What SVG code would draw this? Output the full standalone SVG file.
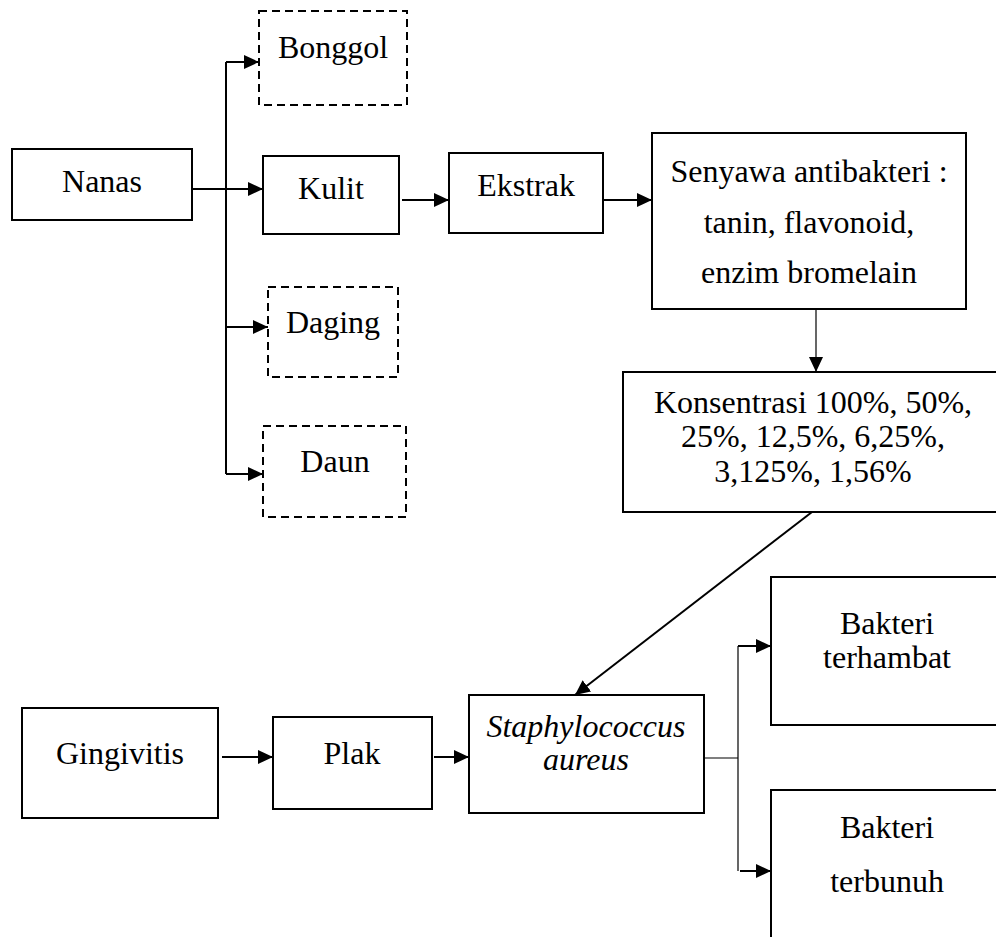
<svg xmlns="http://www.w3.org/2000/svg" width="996" height="937" viewBox="0 0 996 937">
<defs>
<style>
.box{fill:#fff;stroke:#000;stroke-width:2}
.dash{fill:#fff;stroke:#000;stroke-width:2;stroke-dasharray:8 5}
.t{font-family:"Liberation Serif","Times New Roman",serif;font-size:32px;fill:#000;text-anchor:middle}
.it{font-style:italic}
.c{fill:none;stroke:#000;stroke-width:2}
.thin{fill:none;stroke:#000;stroke-width:1.2}
</style>
<marker id="ah" markerUnits="userSpaceOnUse" markerWidth="15" markerHeight="14" refX="15" refY="7" orient="auto">
<path d="M0,0 L15,7 L0,14 z" fill="#000"/>
</marker>
</defs>
<rect width="996" height="937" fill="#fff"/>
<g id="connectors">
<path class="c" d="M192,189 H263" marker-end="url(#ah)"/>
<path class="c" d="M226,62 V474"/>
<path class="c" d="M226,62 H259" marker-end="url(#ah)"/>
<path class="c" d="M226,327 H268" marker-end="url(#ah)"/>
<path class="c" d="M226,474 H263" marker-end="url(#ah)"/>
<path class="c" d="M402,200 H449" marker-end="url(#ah)"/>
<path class="c" d="M603,200 H652" marker-end="url(#ah)"/>
<path class="thin" d="M816,309 V372" marker-end="url(#ah)"/>
<path class="c" d="M812,512 L575,695" marker-end="url(#ah)"/>
<path class="c" d="M222,757 H273" marker-end="url(#ah)"/>
<path class="c" d="M434,757 H469" marker-end="url(#ah)"/>
<path class="thin" d="M705,758 H738"/>
<path class="thin" d="M738,646 V871"/>
<path class="c" d="M738,646 H771" marker-end="url(#ah)"/>
<path class="c" d="M740,871 H771" marker-end="url(#ah)"/>
</g>
<g id="bonggol"><rect class="dash" x="259" y="11" width="148" height="94"/><text class="t" x="333" y="58">Bonggol</text></g>
<g id="nanas"><rect class="box" x="12" y="149" width="180" height="71"/><text class="t" x="102" y="192">Nanas</text></g>
<g id="kulit"><rect class="box" x="263" y="156" width="136" height="78"/><text class="t" x="331" y="199">Kulit</text></g>
<g id="daging"><rect class="dash" x="268" y="287" width="130" height="90"/><text class="t" x="333" y="333">Daging</text></g>
<g id="daun"><rect class="dash" x="263" y="426" width="143" height="91"/><text class="t" x="335" y="472">Daun</text></g>
<g id="ekstrak"><rect class="box" x="449" y="153" width="154" height="80"/><text class="t" x="526" y="196">Ekstrak</text></g>
<g id="senyawa"><rect class="box" x="652" y="133" width="314" height="176"/>
<text class="t" x="809" y="182">Senyawa antibakteri :</text>
<text class="t" x="809" y="233">tanin, flavonoid,</text>
<text class="t" x="809" y="283">enzim bromelain</text></g>
<g id="konsentrasi"><rect class="box" x="623" y="372" width="382" height="140"/>
<text class="t" x="813" y="413">Konsentrasi 100%, 50%,</text>
<text class="t" x="813" y="447">25%, 12,5%, 6,25%,</text>
<text class="t" x="813" y="482">3,125%, 1,56%</text></g>
<g id="gingivitis"><rect class="box" x="22" y="708" width="196" height="110"/><text class="t" x="120" y="764">Gingivitis</text></g>
<g id="plak"><rect class="box" x="273" y="717" width="159" height="92"/><text class="t" x="352" y="764">Plak</text></g>
<g id="staphylococcus"><rect class="box" x="469" y="695" width="235" height="118"/>
<text class="t it" x="586" y="737">Staphylococcus</text>
<text class="t it" x="586" y="770">aureus</text></g>
<g id="terhambat"><rect class="box" x="771" y="577" width="234" height="148"/>
<text class="t" x="887" y="634">Bakteri</text>
<text class="t" x="887" y="668">terhambat</text></g>
<g id="terbunuh"><rect class="box" x="771" y="790" width="234" height="160"/>
<text class="t" x="887" y="838">Bakteri</text>
<text class="t" x="887" y="892">terbunuh</text></g>
</svg>
